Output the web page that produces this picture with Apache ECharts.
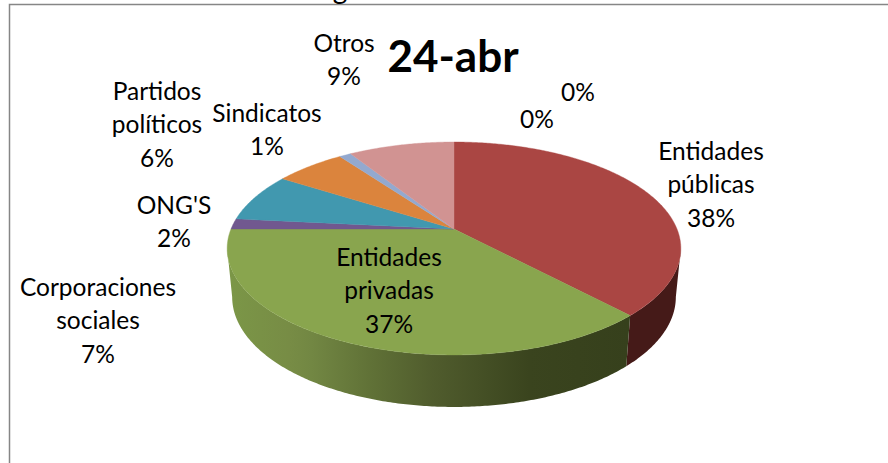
<!DOCTYPE html>
<html>
<head>
<meta charset="utf-8">
<style>html,body{margin:0;padding:0;background:#fff}#c{width:888px;height:463px}svg text{font-variant-ligatures:none}</style>
<script src="https://cdn.jsdelivr.net/npm/echarts@6/dist/echarts.min.js"></script>
</head>
<body>
<div id="c"></div>
<script>
// ---- data ----
const categories = ['Entidades\npúblicas', 'Entidades\nprivadas', "ONG'S", 'Corporaciones\nsociales', 'Partidos\npolíticos', 'Sindicatos', 'Otros', '', ''];
const values = [38, 37, 1.6, 7.4, 6, 1, 9, 0, 0];
const colors = ['#AA4643', '#89A54E', '#71588F', '#4198AF', '#DB843D', '#93A9CF', '#D19392', '#B9CD96', '#A99BBD'];
const titleText = '24-abr';
// ---- layout ----
const labelPos = [[711,150.5],[389,256.5],[174,204.5],[98,286.5],[157,90.5],[267,112.5],[344,42.5],[537,118.5],[578,91.5]];
const LH = 33.3, FONT = 'Lato, Carlito, "Open Sans", sans-serif', FS = 24.5;
// perspective projection of the unit disc to the tilted top face
const cx = 454, apexY = 229, persp = -0.183, A = 102.9, B = 223;
const ellCY = 248.5, ellRX = 227, ellRY = 106.5;
const botCY = 297, botRX = 222, botRY = 110;
const wallFrom = 100.5 * Math.PI / 180, wallTo = 259.5 * Math.PI / 180;
const total = values.reduce((a, b) => a + b, 0);
const starts = []; values.reduce((s, v, i) => (starts[i] = s, s + v), 0);

function ang(v) { return v / total * Math.PI * 2; }
function topPt(t) {
  const u = Math.sin(t), v = -Math.cos(t), d = 1 + persp * v;
  return [cx + B * u / d, apexY + A * v / d];
}
function botPt(t) {
  const p = topPt(t);
  return [cx + (p[0] - cx) * botRX / ellRX, botCY + (p[1] - ellCY) * botRY / ellRY];
}
function arc(fn, a, b) {
  const n = Math.max(2, Math.ceil((b - a) / 0.01)), r = [];
  for (let i = 0; i <= n; i++) r.push(fn(a + (b - a) * i / n));
  return r;
}
const wallFill = {
  1: new echarts.graphic.LinearGradient(232, 0, 628, 0, [
    {offset: 0, color: '#7B9647'}, {offset: 0.146, color: '#778C45'}, {offset: 0.2, color: '#728743'},
    {offset: 0.36, color: '#5F7036'}, {offset: 0.505, color: '#505C2D'}, {offset: 0.75, color: '#3A441E'}, {offset: 1, color: '#36401C'}], true),
  0: '#451A18'
};
function wallItem(params, api) {
  const i = params.dataIndex, v = api.value(0);
  const a = Math.max(ang(starts[i]), wallFrom), b = Math.min(ang(starts[i] + v), wallTo);
  if (!v || b <= a) return {type: 'group', children: []};
  const pts = arc(topPt, a, b).concat(arc(botPt, a, b).reverse());
  const base = wallFill[i] || colors[i];
  return {type: 'polygon', shape: {points: pts}, style: {fill: base}, silent: true};
}
function topItem(params, api) {
  const i = params.dataIndex, v = api.value(0);
  if (!v) return {type: 'group', children: []};
  const a = ang(starts[i]), b = ang(starts[i] + v);
  const pts = [[cx, apexY]].concat(arc(topPt, a, b));
  return {type: 'polygon', shape: {points: pts}, style: {fill: colors[i], stroke: colors[i], lineWidth: 0.4}, silent: true};
}
function labelItem(params, api) {
  const i = params.dataIndex, v = api.value(0);
  const pct = Math.round(v / total * 100) + '%';
  const name = categories[i];
  const n = name ? name.split('\n').length + 1 : 1;
  return {type: 'text', silent: true, x: labelPos[i][0], y: labelPos[i][1] + (n - 1) * LH / 2,
    style: {text: (name ? name + '\n' : '') + pct, align: 'center', verticalAlign: 'middle',
      font: FS + 'px ' + FONT, fill: '#000', lineHeight: LH}};
}
const chart = echarts.init(document.getElementById('c'), null, {renderer: 'svg'});
chart.setOption({
  animation: false,
  backgroundColor: '#fff',
  graphic: [
    {type: 'polyline', silent: true, shape: {points: [[9.5, 463], [9.5, 4.5], [888, 4.5]]}, style: {fill: 'none', stroke: '#868686', lineWidth: 1.5}},
    {type: 'text', silent: true, x: 340, y: -12, style: {text: 'g', align: 'center', verticalAlign: 'middle', font: '28px ' + FONT, fill: '#000'}},
    {type: 'text', silent: true, x: 453, y: 55, z: 5, style: {text: titleText, align: 'center', verticalAlign: 'middle', font: 'bold 44px ' + FONT, fill: '#000'}}
  ],
  series: [
    {type: 'custom', coordinateSystem: 'none', z: 1, renderItem: wallItem, data: values.map(v => [v])},
    {type: 'custom', coordinateSystem: 'none', z: 2, renderItem: topItem, data: values.map(v => [v])},
    {type: 'custom', coordinateSystem: 'none', z: 3, renderItem: labelItem, data: values.map(v => [v])}
  ]
});
</script>
</body>
</html>
